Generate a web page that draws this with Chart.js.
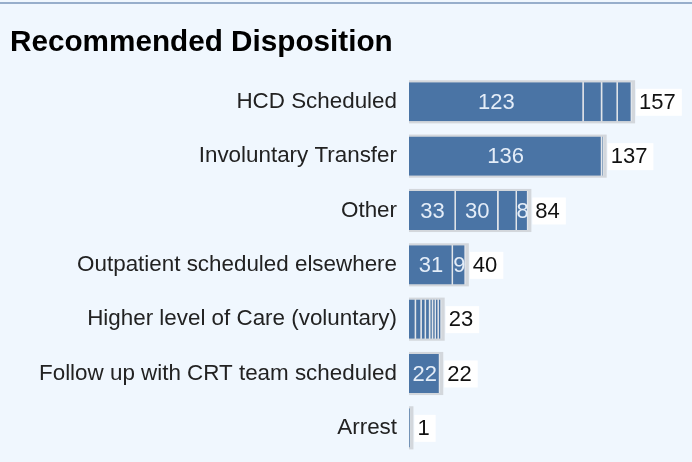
<!DOCTYPE html>
<html lang="en">
<head>
  <meta charset="UTF-8">
  <title>Recommended Disposition</title>
  <script src="https://cdn.jsdelivr.net/npm/chart.js"></script>
  <style>
    html, body {
      margin: 0;
      padding: 0;
      background-color: #f0f7fe;
    }
    #wrap {
      position: relative;
      width: 692px;
      height: 462px;
    }
    #topline {
      position: absolute;
      left: 0;
      top: 2px;
      width: 692px;
      height: 2px;
      background-color: #97aecb;
    }
    canvas {
      position: absolute;
      left: 0;
      top: 0;
    }
  </style>
</head>
<body>
  <div id="wrap">
    <div id="topline"></div>
    <canvas id="chart" width="692" height="462"></canvas>
  </div>

  <script>
    const categories = [
      'HCD Scheduled',
      'Involuntary Transfer',
      'Other',
      'Outpatient scheduled elsewhere',
      'Higher level of Care (voluntary)',
      'Follow up with CRT team scheduled',
      'Arrest'
    ];

    // stacked pieces of each bar, left to right
    const seg1 = [123, 136, 33, 31, 5, 22, 1];
    const seg2 = [13, 1, 30, 9, 4, null, null];
    const seg3 = [11, null, 13, null, 3, null, null];
    const seg4 = [10, null, 8, null, 3, null, null];
    const seg5 = [null, null, null, null, 2, null, null];
    const seg6 = [null, null, null, null, 2, null, null];
    const seg7 = [null, null, null, null, 2, null, null];
    const seg8 = [null, null, null, null, 2, null, null];

    const totals = [157, 137, 84, 40, 23, 22, 1];

    const segments = [seg1, seg2, seg3, seg4, seg5, seg6, seg7, seg8];
    const font = '"Liberation Sans", Arial, sans-serif';

    // grey shadow behind bars, value labels on top
    const labelPlugin = {
      id: 'segLabels',
      beforeDatasetsDraw(chart) {
        const { ctx, scales: { x } } = chart;
        const meta0 = chart.getDatasetMeta(0);
        ctx.save();
        ctx.fillStyle = '#d3d7dc';
        categories.forEach((c, i) => {
          const bar = meta0.data[i];
          const x0 = x.getPixelForValue(0);
          const x1 = x.getPixelForValue(totals[i]);
          ctx.fillRect(x0, bar.y - bar.height / 2 - 2, x1 - x0 + 3, bar.height + 4);
        });
        ctx.restore();
      },
      afterDatasetsDraw(chart) {
        const { ctx, scales: { x } } = chart;
        ctx.save();
        ctx.font = '22px ' + font;
        ctx.textBaseline = 'middle';

        // labels inside the pieces, only where they fit
        ctx.textAlign = 'center';
        ctx.fillStyle = '#e4edf8';
        segments.forEach((seg, d) => {
          const meta = chart.getDatasetMeta(d);
          seg.forEach((v, i) => {
            if (!v) return;
            const el = meta.data[i];
            const w = Math.abs(el.x - el.base);
            const t = String(v);
            if (ctx.measureText(t).width <= w + 2) {
              ctx.fillText(t, (el.x + el.base) / 2, el.y + 1);
            }
          });
        });

        // totals with white box
        ctx.textAlign = 'left';
        const meta0 = chart.getDatasetMeta(0);
        totals.forEach((t, i) => {
          const y = meta0.data[i].y;
          const bx = x.getPixelForValue(t) + 4;
          const tw = ctx.measureText(String(t)).width;
          ctx.fillStyle = '#ffffff';
          ctx.fillRect(bx, y - 13, tw + 9, 27);
          ctx.fillStyle = '#111111';
          ctx.fillText(String(t), bx + 3, y + 1);
        });
        ctx.restore();
      }
    };

    const ctx = document.getElementById('chart').getContext('2d');

    new Chart(ctx, {
      type: 'bar',
      data: {
        labels: categories,
        datasets: segments.map(seg => ({
          data: seg,
          backgroundColor: '#4a74a5',
          borderColor: '#e2e6eb',
          borderWidth: { right: 1.5, left: 0, top: 0, bottom: 0 },
          borderSkipped: false,
          barPercentage: 0.72,
          categoryPercentage: 1
        }))
      },
      options: {
        indexAxis: 'y',
        responsive: false,
        animation: false,
        layout: {
          padding: { left: 10, top: 5, right: 13, bottom: 7 }
        },
        plugins: {
          legend: { display: false },
          tooltip: { enabled: false },
          title: {
            display: true,
            text: 'Recommended Disposition',
            align: 'start',
            color: '#000000',
            font: { family: font, size: 29.7, weight: 'bold' },
            padding: { top: 20, bottom: 14 }
          }
        },
        scales: {
          x: {
            stacked: true,
            display: false,
            min: 0,
            max: 190
          },
          y: {
            stacked: true,
            grid: { display: false, drawTicks: false },
            border: { display: false },
            ticks: {
              color: '#222222',
              padding: 12,
              font: { family: font, size: 22.4 }
            },
            afterFit(scale) {
              scale.width = 399;
              scale.paddingTop = 0;
              scale.paddingBottom = 0;
            }
          }
        }
      },
      plugins: [labelPlugin]
    });
  </script>
</body>
</html>
